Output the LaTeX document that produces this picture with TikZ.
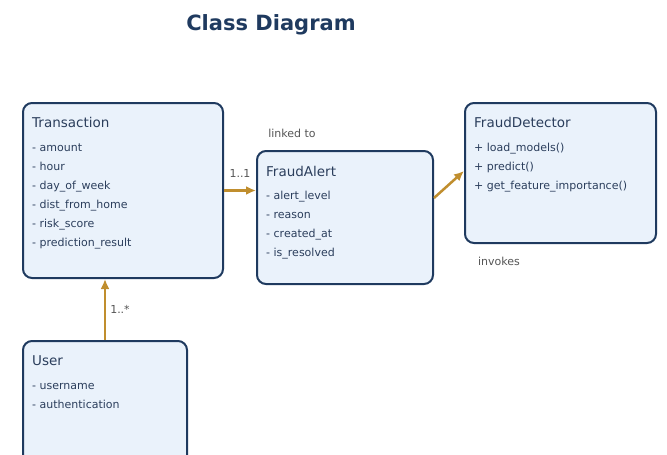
\documentclass[tikz,border=0pt]{standalone}
\usepackage{fontspec}
\setmainfont{DejaVu Sans}
\usetikzlibrary{arrows.meta,positioning}

\begin{document}
\begin{tikzpicture}[>={Latex[length=10pt,width=9pt]},x=1pt,y=-1pt]

\definecolor{navy}{HTML}{1F3A5F}
\definecolor{boxfill}{HTML}{EAF2FB}
\definecolor{gold}{HTML}{C08E2E}
\definecolor{txt}{HTML}{2B3E5C}
\definecolor{note}{HTML}{555555}

\tikzset{
  classbox/.style={draw=navy,fill=boxfill,line width=2pt,rounded corners=9pt,anchor=north west,inner sep=0pt},
  ctitle/.style={anchor=west,text=txt,font=\fontsize{13.5}{16}\selectfont,inner sep=0pt,text height=10pt,text depth=3pt},
  cattr/.style={anchor=west,text=txt,font=\fontsize{11}{13}\selectfont,inner sep=0pt,text height=8pt,text depth=2.5pt},
  assoc/.style={->,draw=gold,line width=2.5pt},
  mult/.style={text=note,font=\fontsize{11}{13}\selectfont,inner sep=0pt}
}

\clip (0,0) rectangle (667,455);

\node[font=\bfseries\fontsize{21}{25}\selectfont,text=navy] (title) at (271,25) {Class Diagram};

% boxes
\node[classbox,minimum width=200pt,minimum height=175pt] (trans) at (22,102) {};
\node[classbox,minimum width=176pt,minimum height=133pt] (alert) at (256,150) {};
\node[classbox,minimum width=191pt,minimum height=140pt] (detector) at (464,102) {};
\node[classbox,minimum width=164pt,minimum height=140pt] (user) at (22,340) {};

% class names and members
\node[ctitle] (transname) at (32,124) {Transaction};
\foreach \a [count=\i] in {amount,hour,day\_of\_week,dist\_from\_home,risk\_score,prediction\_result}
  \node[cattr] (transattr\i) at (32,{130+19*\i}) {- \a};

\node[ctitle] (alertname) at (266,173) {FraudAlert};
\foreach \a [count=\i] in {alert\_level,reason,created\_at,is\_resolved}
  \node[cattr] (alertattr\i) at (266,{178+19*\i}) {- \a};

\node[ctitle] (detectorname) at (474,124) {FraudDetector};
\foreach \a [count=\i] in {load\_models(),predict(),get\_feature\_importance()}
  \node[cattr] (detectorop\i) at (474,{130+19*\i}) {+ \a};

\node[ctitle] (username) at (32,362) {User};
\foreach \a [count=\i] in {username,authentication}
  \node[cattr] (userattr\i) at (32,{368+19*\i}) {- \a};

% associations
\draw[assoc] (trans.east) -- (alert.west |- trans.east);
\draw[assoc] ([yshift=19.5pt]alert.east) -- ([yshift=2pt]detector.west);
\draw[assoc] (user.north) -- (user.north |- trans.south);

\node[mult] (m11) at (240,173) {1..1};
\node[mult] (m1n) at (120,309) {1..*};
\node[mult] (linked) at (292,133) {linked to};
\node[mult] (invokes) at (499,261) {invokes};

\end{tikzpicture}
\end{document}
